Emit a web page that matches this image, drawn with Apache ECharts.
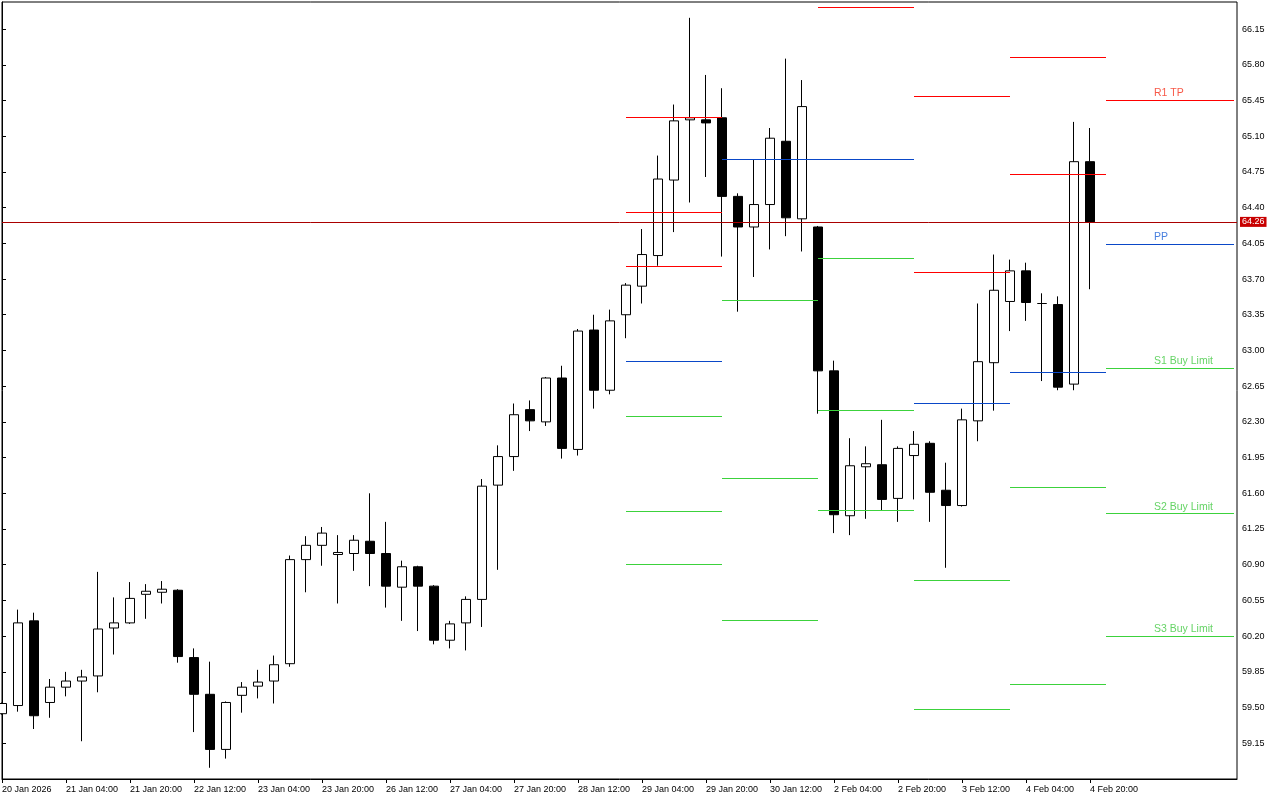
<!DOCTYPE html>
<html>
<head>
<meta charset="utf-8">
<title>H4 candles with daily pivots</title>
<script src="https://cdn.jsdelivr.net/npm/echarts@6/dist/echarts.min.js"></script>
<style>
  html, body { margin: 0; padding: 0; background: #fff; }
  #chart { width: 1280px; height: 800px; }
</style>
</head>
<body>
<div id="chart"></div>
<script>
// H4 candles, oldest first (index = bar number)
const opens = [
  59.44, 59.52, 60.35, 59.55, 59.70, 59.76, 59.81, 60.28, 60.33, 60.61,
  60.63, 60.65, 59.99, 59.63, 59.09, 59.62, 59.71, 59.76, 59.93, 60.95,
  61.09, 61.00, 61.01, 61.13, 61.01, 60.68, 60.88, 60.69, 60.16, 60.33,
  60.56, 61.68, 61.96, 62.42, 62.30, 62.73, 62.03, 63.20, 62.61, 63.35,
  63.63, 63.93, 64.67, 65.26, 65.26, 65.28, 64.51, 64.21, 64.43, 65.05,
  64.29, 64.21, 62.80, 61.38, 61.86, 61.88, 61.55, 61.97, 62.09, 61.63,
  61.48, 62.31, 62.88, 63.48, 63.78, 63.46, 63.45, 62.67, 64.85
];
const closes = [
  59.54, 60.33, 59.42, 59.70, 59.76, 59.80, 60.27, 60.33, 60.57, 60.64,
  60.66, 60.00, 59.63, 59.09, 59.55, 59.70, 59.75, 59.92, 60.95, 61.09,
  61.21, 61.02, 61.14, 61.01, 60.69, 60.88, 60.69, 60.16, 60.32, 60.56,
  61.67, 61.96, 62.37, 62.31, 62.73, 62.04, 63.19, 62.61, 63.29, 63.64,
  63.94, 64.68, 65.25, 65.28, 65.23, 64.51, 64.21, 64.43, 65.08, 64.30,
  65.39, 62.80, 61.39, 61.87, 61.89, 61.54, 62.04, 62.08, 61.61, 61.48,
  62.32, 62.89, 63.59, 63.78, 63.47, 63.46, 62.64, 64.85, 64.26
];
const lows = [
  59.43, 59.46, 59.29, 59.40, 59.61, 59.17, 59.65, 60.02, 60.32, 60.37,
  60.52, 59.94, 59.26, 58.91, 59.00, 59.45, 59.59, 59.54, 59.90, 60.63,
  60.89, 60.52, 60.84, 60.69, 60.48, 60.35, 60.25, 60.12, 60.08, 60.06,
  60.29, 60.85, 61.82, 62.21, 62.26, 61.94, 61.97, 62.43, 62.57, 63.12,
  63.46, 63.83, 64.16, 64.45, 64.70, 63.92, 63.38, 63.72, 63.99, 64.12,
  63.97, 62.38, 61.21, 61.19, 61.35, 61.43, 61.32, 61.54, 61.32, 60.87,
  61.47, 62.11, 62.41, 63.19, 63.29, 62.70, 62.61, 62.61, 63.60
];
const highs = [
  59.55, 60.46, 60.43, 59.78, 59.85, 59.87, 60.83, 60.58, 60.73, 60.71,
  60.74, 60.66, 60.08, 59.95, 59.56, 59.75, 59.87, 60.01, 60.99, 61.18,
  61.27, 61.19, 61.19, 61.60, 61.32, 60.94, 60.89, 60.70, 60.35, 60.59,
  61.74, 62.07, 62.48, 62.51, 62.74, 62.85, 63.21, 63.35, 63.40, 63.66,
  64.19, 64.91, 65.41, 66.26, 65.70, 65.57, 64.54, 64.87, 65.18, 65.86,
  65.65, 64.22, 62.90, 62.14, 62.06, 62.32, 62.06, 62.21, 62.11, 61.90,
  62.43, 63.46, 63.94, 63.89, 63.86, 63.56, 63.53, 65.24, 65.18
];
const lastPrice = 64.26;

// time axis labels, one every 4 bars
const xTickIdx = [0, 4, 8, 12, 16, 20, 24, 28, 32, 36, 40, 44, 48, 52, 56, 60, 64, 68];
const xTickLabels = [
  '20 Jan 2026', '21 Jan 04:00', '21 Jan 20:00', '22 Jan 12:00', '23 Jan 04:00',
  '23 Jan 20:00', '26 Jan 12:00', '27 Jan 04:00', '27 Jan 20:00', '28 Jan 12:00',
  '29 Jan 04:00', '29 Jan 20:00', '30 Jan 12:00', '2 Feb 04:00', '2 Feb 20:00',
  '3 Feb 12:00', '4 Feb 04:00', '4 Feb 20:00'
];
const yTickLabels = [
  '59.15', '59.50', '59.85', '60.20', '60.55', '60.90', '61.25', '61.60',
  '61.95', '62.30', '62.65', '63.00', '63.35', '63.70', '64.05', '64.40',
  '64.75', '65.10', '65.45', '65.80', '66.15'
];

// daily pivot levels: 29 Jan, 30 Jan, 2 Feb, 3 Feb, 4 Feb, 5 Feb (null = off chart)
const pivotStart = [39, 45, 51, 57, 63, 69];
const pivotEnd = [45, 51, 57, 63, 69, 77];
const r3 = [65.29, null, null, null, null, null];
const r2 = [64.35, null, null, 65.49, 65.87, null];
const r1 = [63.83, null, 66.36, 63.77, 64.73, 65.45];
const pp = [62.89, 64.87, 64.87, 62.48, 62.79, 64.04];
const s1 = [62.36, 63.49, 63.90, 60.75, 61.66, 62.83];
const s2 = [61.42, 61.75, 62.41, 59.48, 59.73, 61.40];
const s3 = [60.90, 60.36, 61.43, null, null, 60.20];
// text on the current day's levels
const levelNames = ['R1 TP', 'PP', 'S1 Buy Limit', 'S2 Buy Limit', 'S3 Buy Limit'];
const levelNameAt = 72;

const RED = '#ff0000';
const BLUE = '#0a48c8';
const GREEN = '#3cd23c';
const FONT = 'Liberation Sans, Arial, sans-serif';

const candleData = opens.map((o, i) => [i, o, closes[i], lows[i], highs[i]]);

// pivot segments as mark lines
const levels = [
  { vals: r3, color: RED }, { vals: r2, color: RED }, { vals: r1, color: RED },
  { vals: pp, color: BLUE },
  { vals: s1, color: GREEN }, { vals: s2, color: GREEN }, { vals: s3, color: GREEN }
];
const markData = [];
levels.forEach(lv => {
  lv.vals.forEach((v, d) => {
    if (v == null) return;
    markData.push([
      { coord: [pivotStart[d], v], lineStyle: { color: lv.color, width: 1, type: 'solid' } },
      { coord: [pivotEnd[d], v] }
    ]);
  });
});
// current price line
markData.push({
  yAxis: lastPrice,
  lineStyle: { color: '#aa0000', width: 1, type: 'solid' },
  label: {
    show: true,
    position: 'end',
    distance: 3,
    formatter: lastPrice.toFixed(2),
    color: '#fff',
    backgroundColor: '#c80000',
    padding: [1, 2, 0, 2],
    fontFamily: FONT,
    fontSize: 9
  }
});

// level names for the last day
const last = pp.length - 1;
const nameVals = [r1[last], pp[last], s1[last], s2[last], s3[last]];
const nameColors = ['#f5301a', '#1a5fd6', '#3ec83e', '#3ec83e', '#3ec83e'];
const nameData = levelNames.map((n, k) => ({
  name: n,
  value: [levelNameAt, nameVals[k]],
  label: { color: nameColors[k] }
}));

const chart = echarts.init(document.getElementById('chart'));
chart.setOption({
  animation: false,
  backgroundColor: '#fff',
  grid: {
    left: 2, right: 43, top: 2, bottom: 21,
    show: true, borderColor: '#000', borderWidth: 1,
    containLabel: false, outerBoundsMode: 'none'
  },
  xAxis: {
    type: 'value',
    min: 0,
    max: 77.1875,
    interval: 4,
    splitLine: { show: false },
    axisLine: { onZero: false, lineStyle: { color: '#000', width: 1 } },
    axisTick: { show: true, length: 4, customValues: xTickIdx, lineStyle: { color: '#000' } },
    axisLabel: {
      customValues: xTickIdx,
      align: 'left',
      margin: 6,
      color: '#000',
      fontFamily: FONT,
      fontSize: 9,
      formatter: v => xTickLabels[xTickIdx.indexOf(Math.round(v))] || ''
    }
  },
  yAxis: {
    type: 'value',
    position: 'right',
    min: 58.80,
    max: 66.415,
    interval: 0.35,
    splitLine: { show: false },
    axisLine: { show: true, lineStyle: { color: '#000', width: 1 } },
    axisTick: { show: true, length: 4, customValues: yTickLabels.map(Number), lineStyle: { color: '#000' } },
    axisLabel: {
      customValues: yTickLabels.map(Number),
      margin: 5,
      color: '#000',
      fontFamily: FONT,
      fontSize: 9,
      formatter: v => {
        const s = v.toFixed(2);
        return yTickLabels.indexOf(s) >= 0 ? s : '';
      }
    }
  },
  series: [
    {
      type: 'candlestick',
      data: candleData,
      barWidth: 9,
      clip: true,
      itemStyle: {
        color: '#fff',
        color0: '#000',
        borderColor: '#000',
        borderColor0: '#000',
        borderColorDoji: '#000',
        borderWidth: 1
      },
      markLine: {
        silent: true,
        animation: false,
        symbol: ['none', 'none'],
        label: { show: false },
        emphasis: { disabled: true },
        data: markData
      }
    },
    {
      type: 'scatter',
      data: nameData,
      symbolSize: 1,
      silent: true,
      itemStyle: { color: 'rgba(0,0,0,0)' },
      label: {
        show: true,
        position: 'top',
        align: 'left',
        distance: 1,
        fontFamily: FONT,
        fontSize: 10.5,
        formatter: '{b}'
      }
    }
  ]
});
</script>
</body>
</html>
